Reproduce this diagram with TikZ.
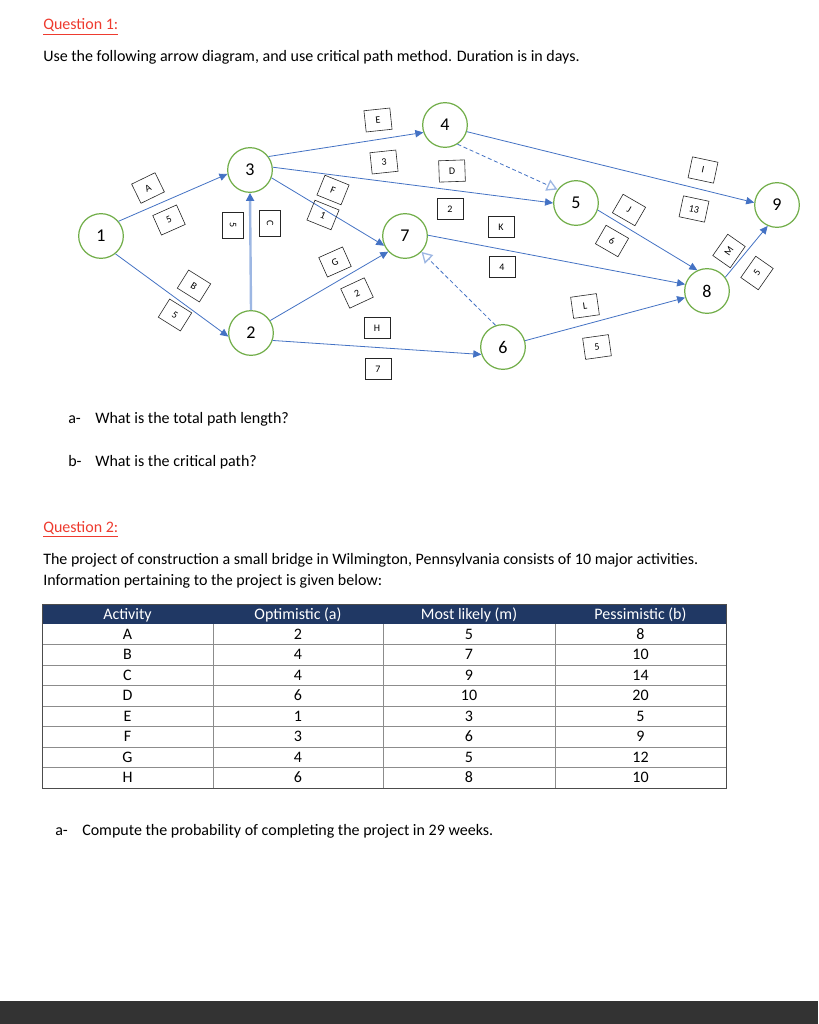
\documentclass[tikz,border=0pt]{standalone}
\usepackage{fontspec}
\setmainfont{Carlito}
\usetikzlibrary{arrows.meta}
\definecolor{evgreen}{HTML}{70AD47}
\definecolor{lnblue}{HTML}{4472C4}
\definecolor{ltblue}{HTML}{9DB7E3}
\definecolor{qred}{HTML}{EE3B2F}
\definecolor{hdnavy}{HTML}{203864}
\definecolor{barcol}{HTML}{333333}
\tikzset{
  event/.style={circle, draw=evgreen, line width=0.9pt, fill=white, minimum size=33.5pt, inner sep=0pt, font=\fontsize{13.5}{15}\selectfont},
  lbl/.style={draw=black!85, line width=0.45pt, minimum width=19.5pt, minimum height=16pt, inner sep=1pt, font=\fontsize{7.5}{8}\selectfont},
  act/.style={draw=lnblue, line width=0.6pt, -{Triangle[length=6pt,width=5.5pt]}},
  dummy/.style={draw=lnblue, line width=0.6pt, dash pattern=on 3pt off 2pt, -{Triangle[open,length=8pt,width=9pt,color=ltblue,line width=1pt]}},
  body/.style={anchor=base west, inner sep=0pt, font=\fontsize{12}{14}\selectfont},
  cell/.style={anchor=base, inner sep=0pt, font=\fontsize{12}{14}\selectfont},
}
\begin{document}
\begin{tikzpicture}[x=0.75pt,y=-0.75pt]
  \useasboundingbox[fill=white] (0,0) rectangle (818,1024);
  % question 1 text
  \node[body, text=qred] (qone) at (43,30) {\underline{Question 1:}};
  \node[body] (intro) at (43,62) {Use the following arrow diagram, and use critical path method. Duration is in days.};

  % events
  \node[event] (n1) at (101,236) {1};
  \node[event] (n3) at (250,170) {3};
  \node[event] (n2) at (251,333) {2};
  \node[event] (n4) at (445,125) {4};
  \node[event] (n7) at (405,236) {7};
  \node[event] (n6) at (503,347) {6};
  \node[event] (n5) at (576,203) {5};
  \node[event] (n9) at (777,205) {9};
  \node[event] (n8) at (707,291) {8};

  % activities
  \draw[act] (n1.40) -- (n3.190);
  \draw[act] (n1.-51) -- (n2.189);
  \draw[draw=ltblue, line width=1.8pt, -{Triangle[length=6pt,width=6pt,color=lnblue]}] (n2.90) -- (n3.270);
  \draw[act] (n3.36) -- (n4.199);
  \draw[act] (n3.7) -- (n5.180);
  \draw[act] (n3.-20) -- (n7.205);
  \draw[act] (n2.33) -- (n7.223);
  \draw[act] (n2.-19) -- (n6.199);
  \draw[act] (n4.-17) -- (n9.174);
  \draw[act] (n7.2) -- (n8.163);
  \draw[act] (n6.16) -- (n8.197);
  \draw[act] (n5.-18) -- (n8.115);
  \draw[act] (n8.37) -- (n9.246);
  \draw[dummy] (n4.-57) -- (n5.144);
  \draw[dummy] (n6.109) -- (n7.-44);

  % activity labels
  \node[lbl, rotate=26] (la) at (148,188) {A};
  \node[lbl, rotate=24] (la5) at (169,220) {5};
  \node[lbl, rotate=-32] (lb) at (194,286) {B};
  \node[lbl, rotate=-32] (lb5) at (175,315) {5};
  \node[lbl, rotate=-90] (lc5) at (233,225) {5};
  \node[lbl, rotate=-90] (lc) at (270,223) {C};
  \node[lbl, rotate=6] (le) at (378,120) {E};
  \node[lbl, rotate=6] (le3) at (384,162) {3};
  \node[lbl, rotate=-22] (lf) at (333,190) {F};
  \node[lbl, rotate=-22] (lf1) at (323,215) {1};
  \node[lbl, rotate=24] (lg) at (335,262) {G};
  \node[lbl, rotate=25] (lg2) at (357,293) {2};
  \node[lbl] (lh) at (377,328) {H};
  \node[lbl] (lh7) at (378,369) {7};
  \node[lbl, rotate=2] (ld) at (452,171) {D};
  \node[lbl] (ld2) at (450,209) {2};
  \node[lbl] (lk) at (501,227) {K};
  \node[lbl] (lk4) at (502,267) {4};
  \node[lbl, rotate=-12] (li) at (703,170) {I};
  \node[lbl, rotate=-12] (li13) at (694,209) {13};
  \node[lbl, rotate=-30] (lj) at (629,210) {J};
  \node[lbl, rotate=-30] (lj6) at (612,241) {6};
  \node[lbl, rotate=55] (lm) at (729,251) {M};
  \node[lbl, rotate=55] (lm5) at (757,273) {5};
  \node[lbl, rotate=8] (ll) at (585,306) {L};
  \node[lbl, rotate=8] (ll5) at (597,347) {5};

  % questions
  \node[body] (qa) at (68,423) {a-};
  \node[body] (qatext) at (95,423) {What is the total path length?};
  \node[body] (qb) at (68,466) {b-};
  \node[body] (qbtext) at (95,466) {What is the critical path?};

  % question 2 text
  \node[body, text=qred] (qtwo) at (43,532) {\underline{Question 2:}};
  \node[body] (proj) at (43,564) {The project of construction a small bridge in Wilmington, Pennsylvania consists of 10 major activities.};
  \node[body] (info) at (43,585) {Information pertaining to the project is given below:};

  % table
  \fill[hdnavy] (42,604) rectangle (726,624);
  \foreach \hx/\htext in {127.5/Activity, 298/Optimistic (a), 469/Most likely (m), 640.5/Pessimistic (b)}
    \node[cell, text=white] at (\hx,619) {\htext};
  \foreach \actv/\oa/\om/\ob [count=\i] in {A/2/5/8, B/4/7/10, C/4/9/14, D/6/10/20, E/1/3/5, F/3/6/9, G/4/5/12, H/6/8/10} {
    \node[cell] at (127.5,624+\i*20.5-5.2) {\actv};
    \node[cell] at (298,624+\i*20.5-5.2) {\oa};
    \node[cell] at (469,624+\i*20.5-5.2) {\om};
    \node[cell] at (640.5,624+\i*20.5-5.2) {\ob};
    \draw[black!45, line width=0.6pt] (42,624+\i*20.5) -- (726,624+\i*20.5);
  }
  \foreach \vx in {213,383,555}
    \draw[black!45, line width=0.6pt] (\vx,624) -- (\vx,788);
  \draw[black!70, line width=0.6pt] (42,604) rectangle (726,788);

  \node[body] (qc) at (55,835) {a-};
  \node[body] (qctext) at (82,835) {Compute the probability of completing the project in 29 weeks.};

  % bottom bar
  \fill[barcol] (0,1001) rectangle (818,1024);
\end{tikzpicture}
\end{document}
